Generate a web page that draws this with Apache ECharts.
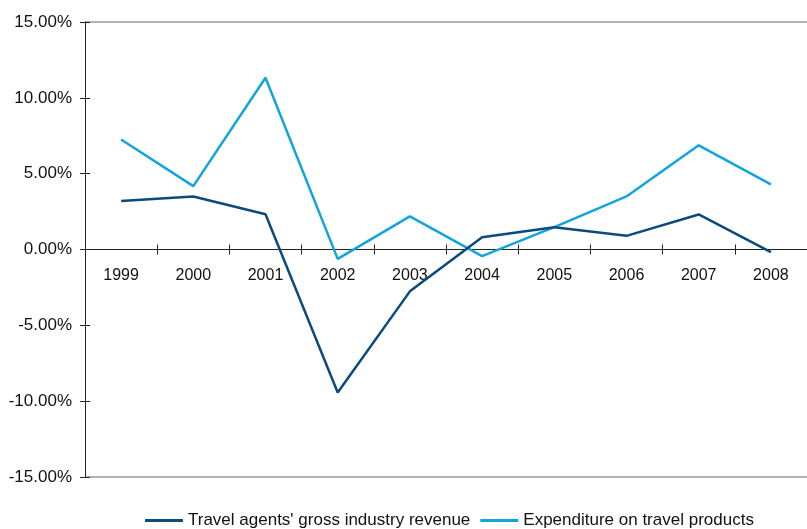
<!DOCTYPE html>
<html>
<head>
<meta charset="utf-8">
<script src="https://cdn.jsdelivr.net/npm/echarts@6/dist/echarts.min.js"></script>
<style>
  html, body { margin: 0; padding: 0; background: #fff; }
  #chart { width: 807px; height: 529px; }
</style>
</head>
<body>
<div id="chart"></div>
<script>
// Annual growth rates, 1999-2008
var years = ['1999', '2000', '2001', '2002', '2003', '2004', '2005', '2006', '2007', '2008'];
var agentRevenue = [3.19, 3.50, 2.33, -9.43, -2.76, 0.81, 1.47, 0.90, 2.31, -0.18];
var travelSpend = [7.25, 4.18, 11.32, -0.62, 2.18, -0.44, 1.47, 3.50, 6.87, 4.30];
var seriesNames = ["Travel agents' gross industry revenue", 'Expenditure on travel products'];
var yTicks = { min: -15, max: 15, step: 5 };

var font = '"Liberation Sans", Arial, sans-serif';
var axisColor = '#222';

var chart = echarts.init(document.getElementById('chart'), null, { renderer: 'canvas' });
chart.setOption({
  animation: false,
  grid: { left: 85, top: 22, width: 731, height: 455, containLabel: false },
  legend: {
    left: 140,
    top: 507,
    icon: 'rect',
    itemWidth: 38,
    itemHeight: 3,
    itemGap: 10,
    textStyle: { fontFamily: font, fontSize: 17, color: '#111' },
    data: seriesNames
  },
  xAxis: [
    {
      type: 'category',
      data: years,
      boundaryGap: true,
      axisLine: { onZero: true, onZeroAxisIndex: 0, lineStyle: { color: axisColor, width: 1 } },
      axisTick: { show: true, length: 5, lineStyle: { color: axisColor } },
      axisLabel: { show: false },
      splitLine: { show: false }
    },
    {
      type: 'category',
      data: years,
      position: 'bottom',
      boundaryGap: true,
      axisLine: { show: false, onZero: true, onZeroAxisIndex: 0 },
      axisTick: { show: true, inside: true, length: 5, lineStyle: { color: axisColor } },
      axisLabel: { show: false },
      splitLine: { show: false }
    }
  ],
  yAxis: [
    {
      type: 'value',
      min: yTicks.min,
      max: yTicks.max,
      interval: yTicks.step,
      axisLine: { show: true, onZero: false, lineStyle: { color: axisColor, width: 1 } },
      axisTick: { show: true, length: 5, lineStyle: { color: axisColor } },
      axisLabel: {
        margin: 13,
        fontFamily: font,
        fontSize: 17,
        color: '#111',
        formatter: function (v) { return v.toFixed(2) + '%'; }
      },
      splitLine: {
        show: true,
        lineStyle: {
          width: 1.5,
          color: ['#9a9a9a', 'transparent', 'transparent', 'transparent', 'transparent', 'transparent', '#9a9a9a']
        }
      }
    },
    {
      type: 'value',
      min: yTicks.min,
      max: yTicks.max,
      interval: yTicks.step,
      position: 'left',
      axisLine: { show: false, onZero: false },
      axisTick: { show: true, inside: true, length: 5, lineStyle: { color: axisColor } },
      axisLabel: { show: false },
      splitLine: { show: false }
    }
  ],
  series: [
    {
      name: seriesNames[0],
      type: 'line',
      data: agentRevenue,
      symbol: 'none',
      color: '#0b4a7d',
      lineStyle: { width: 2.5, color: '#0b4a7d' },
      z: 3
    },
    {
      name: seriesNames[1],
      type: 'line',
      data: travelSpend,
      symbol: 'none',
      color: '#12a5dc',
      lineStyle: { width: 2.5, color: '#12a5dc' },
      z: 2
    },
    {
      // year labels sitting just under the zero line
      name: 'year-labels',
      type: 'scatter',
      silent: true,
      symbolSize: 0,
      itemStyle: { opacity: 1, color: '#111' },
      data: years.map(function (y) { return [y, 0]; }),
      label: {
        show: true,
        position: 'bottom',
        distance: 18,
        opacity: 1,
        fontFamily: font,
        fontSize: 16,
        color: '#111',
        textBorderWidth: 0,
        formatter: function (p) { return p.value[0]; }
      },
      z: 1
    }
  ]
});
</script>
</body>
</html>
